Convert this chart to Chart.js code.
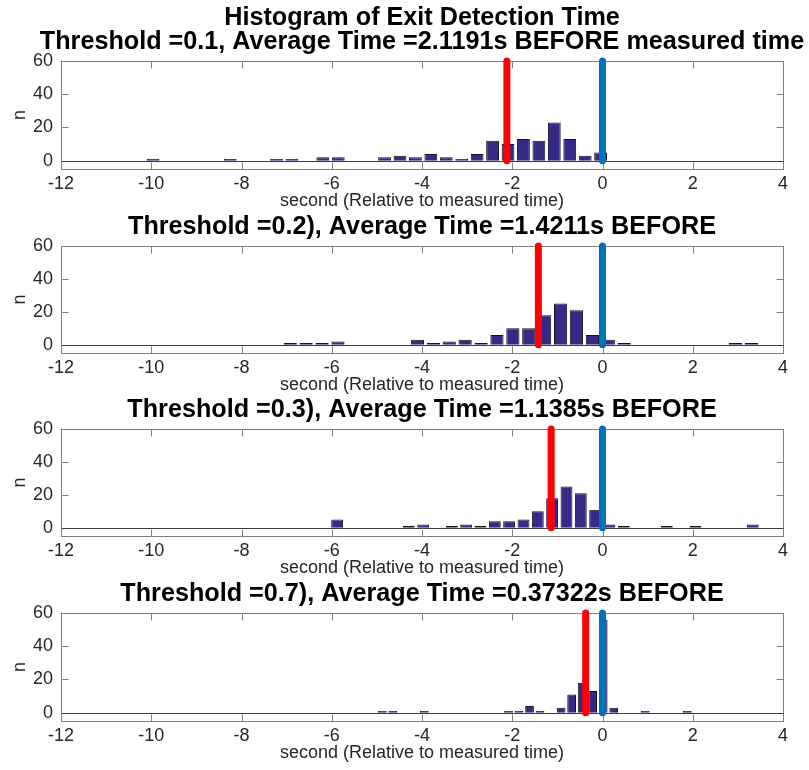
<!DOCTYPE html>
<html><head><meta charset="utf-8">
<title>Histogram of Exit Detection Time</title>
<script src="https://cdn.jsdelivr.net/npm/chart.js"></script>
<style>
    body { margin: 0; background: #fff; overflow: hidden; }
    #wrap { position: relative; width: 809px; height: 770px; overflow: hidden; }
    canvas { position: absolute; left: 0; }
</style></head>
<body>
<div id="wrap">
    <!-- canvas mais largo que a janela p/ o titulo ficar centrado sobre o eixo -->
    <canvas id="h1" width="844" height="213" style="top:0px"></canvas>
    <canvas id="h2" width="844" height="185" style="top:212px"></canvas>
    <canvas id="h3" width="844" height="185" style="top:395px"></canvas>
    <canvas id="h4" width="844" height="185" style="top:580px"></canvas>
</div>
<script>
// --- DADOS ---
const xTicks = [-12, -10, -8, -6, -4, -2, 0, 2, 4];
const yTicks = [0, 20, 40, 60];
const xLabel = 'second (Relative to measured time)';
const yLabel = 'n';
const lineSpan = [0, 60];      // altura das linhas de referencia
const measuredTime = 0;        // linha azul

const title1 = ['Histogram of Exit Detection Time', 'Threshold =0.1, Average Time =2.1191s BEFORE measured time'];
const title2 = 'Threshold =0.2), Average Time =1.4211s BEFORE';
const title3 = 'Threshold =0.3), Average Time =1.1385s BEFORE';
const title4 = 'Threshold =0.7), Average Time =0.37322s BEFORE';

const avgTimes = [-2.1191, -1.4211, -1.1385, -0.37322];

// centros dos bins (s) e contagens
const centers1 = [-9.960, -9.618, -9.276, -8.934, -8.592, -8.250, -7.908, -7.566, -7.224, -6.882,
                  -6.540, -6.198, -5.856, -5.514, -5.172, -4.830, -4.488, -4.146, -3.804, -3.462,
                  -3.120, -2.778, -2.436, -2.094, -1.752, -1.410, -1.068, -0.726, -0.384, -0.042];
const counts1  = [1, 0, 0, 0, 0, 1, 0, 0, 1, 1, 0, 2, 2, 0, 0, 2, 3, 2, 4, 2, 1, 4, 12, 10, 13, 12, 23, 13, 3, 5];

const centers2 = [-6.920, -6.568, -6.215, -5.863, -5.510, -5.158, -4.806, -4.453, -4.101, -3.748,
                  -3.396, -3.044, -2.691, -2.339, -1.986, -1.634, -1.282, -0.929, -0.577, -0.224,
                   0.128,  0.480,  0.833,  1.185,  1.538,  1.890,  2.242,  2.595,  2.947,  3.300];
const counts2  = [1, 1, 1, 2, 0, 0, 0, 0, 3, 1, 2, 3, 1, 6, 10, 10, 18, 25, 21, 6, 3, 1, 0, 0, 0, 0, 0, 0, 1, 1];

const centers3 = [-5.880, -5.562, -5.245, -4.927, -4.610, -4.292, -3.974, -3.657, -3.339, -3.022,
                  -2.704, -2.386, -2.069, -1.751, -1.434, -1.116, -0.798, -0.481, -0.163,  0.154,
                   0.472,  0.790,  1.107,  1.425,  1.742,  2.060,  2.378,  2.695,  3.013,  3.330];
const counts3  = [5, 0, 0, 0, 0, 1, 2, 0, 1, 2, 1, 4, 4, 5, 10, 18, 25, 21, 11, 2, 1, 0, 0, 1, 0, 1, 0, 0, 0, 2];

const centers4 = [-4.880, -4.647, -4.414, -4.181, -3.948, -3.714, -3.481, -3.248, -3.015, -2.782,
                  -2.549, -2.316, -2.083, -1.850, -1.617, -1.384, -1.150, -0.917, -0.684, -0.451,
                  -0.218,  0.015,  0.248,  0.481,  0.714,  0.947,  1.180,  1.413,  1.646,  1.879];
const counts4  = [1, 1, 0, 0, 1, 0, 0, 0, 0, 0, 0, 0, 1, 1, 4, 1, 0, 3, 11, 18, 13, 56, 3, 0, 0, 1, 0, 0, 0, 1];

const FONT = "'Liberation Sans', Arial, Helvetica, sans-serif";
const TXT = '#262626';

// caixa do eixo (estilo matlab) + ticks para dentro + linha base em 0
const boxPlugin = {
    id: 'matBox',
    beforeDatasetsDraw(chart) {
        const { ctx, chartArea: a, scales: { x, y } } = chart;
        const L = Math.round(a.left) + 0.5, R = Math.round(a.right) + 0.5;
        const T = Math.round(a.top) + 0.5, B = Math.round(a.bottom) + 0.5;
        const tk = 7;
        ctx.save();
        ctx.lineWidth = 1;
        ctx.strokeStyle = '#808080';
        ctx.strokeRect(L, T, R - L, B - T);
        ctx.beginPath();
        xTicks.forEach(v => {
            const px = Math.round(x.getPixelForValue(v)) + 0.5;
            ctx.moveTo(px, T); ctx.lineTo(px, T + tk);
            ctx.moveTo(px, B); ctx.lineTo(px, B - tk);
        });
        yTicks.forEach(v => {
            const py = Math.round(y.getPixelForValue(v)) + 0.5;
            ctx.moveTo(L, py); ctx.lineTo(L + tk, py);
            ctx.moveTo(R, py); ctx.lineTo(R - tk, py);
        });
        ctx.stroke();
        const y0 = Math.round(y.getPixelForValue(0)) + 0.5;
        ctx.strokeStyle = '#3c3c3c';
        ctx.beginPath(); ctx.moveTo(L, y0); ctx.lineTo(R, y0); ctx.stroke();
        ctx.restore();
    }
};

function vline(xv, color) {
    return {
        type: 'line',
        data: lineSpan.map(v => ({ x: xv, y: v })),
        borderColor: color, borderWidth: 7, borderCapStyle: 'round',
        pointRadius: 0, clip: false, order: 0
    };
}

function makeHist(id, titleText, centers, counts, avg, titleTop) {
    new Chart(document.getElementById(id), {
        type: 'bar',
        data: {
            datasets: [
                vline(avg, '#ff0000'),
                vline(measuredTime, '#0072bd'),
                {
                    data: centers.map((c, i) => ({ x: c, y: counts[i] })),
                    backgroundColor: '#352a87', borderColor: '#141414', borderWidth: 1,
                    barPercentage: 0.83, categoryPercentage: 1, order: 1
                }
            ]
        },
        options: {
            responsive: false,
            animation: false,
            events: [],
            layout: { padding: 0 },
            plugins: {
                legend: { display: false },
                tooltip: { enabled: false },
                title: {
                    display: true, text: titleText, color: '#000',
                    font: { family: FONT, size: 25.2, weight: 'bold', lineHeight: '24px' },
                    padding: { top: titleTop, bottom: 7 }
                }
            },
            scales: {
                x: {
                    type: 'linear', min: -12, max: 4, offset: false,
                    grid: { display: false, drawTicks: false }, border: { display: false },
                    afterBuildTicks: s => { s.ticks = xTicks.map(v => ({ value: v })); },
                    afterFit: s => { s.height = 44; },
                    ticks: { color: TXT, font: { family: FONT, size: 18 }, padding: 4, maxRotation: 0, autoSkip: false },
                    title: { display: true, text: xLabel, color: TXT, font: { family: FONT, size: 18, lineHeight: 1.2 }, padding: { top: 0, bottom: 1 } }
                },
                y: {
                    type: 'linear', min: -5, max: 60,
                    grid: { display: false, drawTicks: false }, border: { display: false },
                    afterBuildTicks: s => { s.ticks = yTicks.map(v => ({ value: v })); },
                    afterFit: s => { s.width = 61; },
                    ticks: { color: TXT, font: { family: FONT, size: 18 }, padding: 8 },
                    title: { display: true, text: yLabel, color: TXT, font: { family: FONT, size: 18, lineHeight: 1 }, padding: { top: 11, bottom: 0 } }
                },
                // eixo vazio a direita: espelha a largura do eixo y p/ centrar o titulo
                yPad: {
                    type: 'linear', position: 'right',
                    grid: { display: false, drawTicks: false }, border: { display: false },
                    ticks: { display: false },
                    afterFit: s => { s.width = 61; }
                }
            }
        },
        plugins: [boxPlugin]
    });
}

makeHist('h1', title1, centers1, counts1, avgTimes[0], 6);
makeHist('h2', title2, centers2, counts2, avgTimes[1], 3);
makeHist('h3', title3, centers3, counts3, avgTimes[2], 3);
makeHist('h4', title4, centers4, counts4, avgTimes[3], 2);
</script></body></html>
